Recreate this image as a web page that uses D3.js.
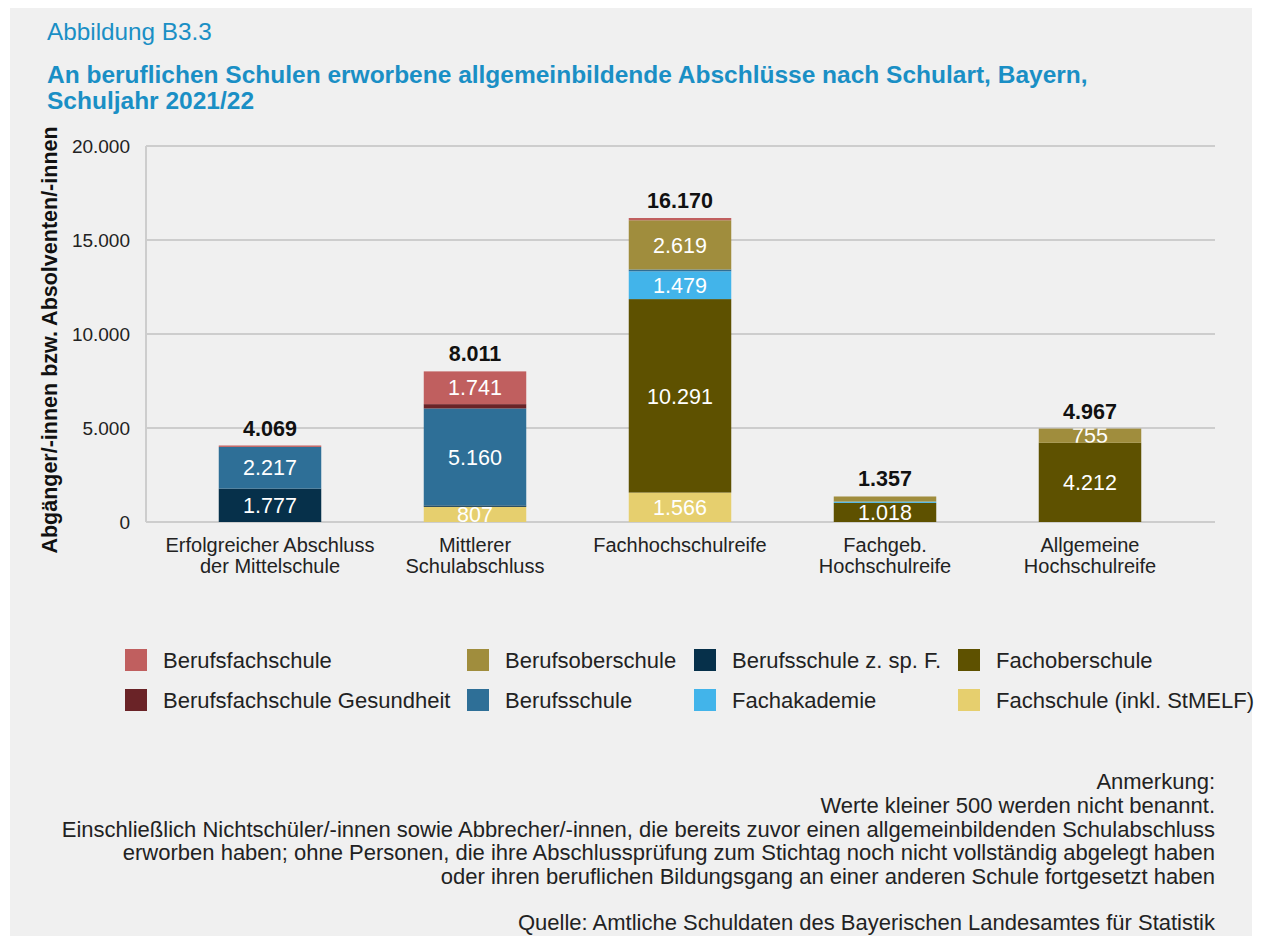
<!DOCTYPE html>
<html>
<head>
<meta charset="utf-8">
<script src="https://cdn.jsdelivr.net/npm/d3@7"></script>
<style>
  body { margin: 0; background: #fff; }
  text { font-family: "Liberation Sans", Arial, sans-serif; }
</style>
</head>
<body>
<div id="chart-area"></div>
<script>

// Data
var categories = [
    ["Erfolgreicher Abschluss", "der Mittelschule"],
    ["Mittlerer", "Schulabschluss"],
    ["Fachhochschulreife"],
    ["Fachgeb.", "Hochschulreife"],
    ["Allgemeine", "Hochschulreife"]
];

// stack order from bottom to top
var seriesNames = ["Fachschule (inkl. StMELF)", "Fachoberschule", "Fachakademie",
    "Berufsschule z. sp. F.", "Berufsschule", "Berufsoberschule",
    "Berufsfachschule Gesundheit", "Berufsfachschule"];

var fachschule        = [0, 807, 1566, 0, 0];
var fachoberschule    = [0, 0, 10291, 1018, 4212];
var fachakademie      = [0, 0, 1479, 69, 0];
var berufsschuleSpF   = [1777, 73, 0, 0, 0];
var berufsschule      = [2217, 5160, 95, 0, 0];
var berufsoberschule  = [0, 0, 2619, 270, 755];
var bfsGesundheit     = [0, 230, 0, 0, 0];
var berufsfachschule  = [75, 1741, 120, 0, 0];

var totals = [4069, 8011, 16170, 1357, 4967];

var yTicks = [0, 5000, 10000, 15000, 20000];

var colors = ["#e6cf6e", "#5e5100", "#42b4ea", "#06304a", "#2e6f97", "#a08d3d", "#6a2327", "#c05f5f"];

// legend order (two rows, four columns)
var legendOrder = ["Berufsfachschule", "Berufsoberschule", "Berufsschule z. sp. F.", "Fachoberschule",
    "Berufsfachschule Gesundheit", "Berufsschule", "Fachakademie", "Fachschule (inkl. StMELF)"];

var seriesValues = [fachschule, fachoberschule, fachakademie, berufsschuleSpF,
    berufsschule, berufsoberschule, bfsGesundheit, berufsfachschule];

var rows = categories.map(function(c, i) {
    var r = { idx: i };
    seriesNames.forEach(function(s, j) { r[s] = seriesValues[j][i]; });
    return r;
});

var W = 1261, H = 936;
var blue = "#1a8fc5";

var svg = d3.select("#chart-area").append("svg")
    .attr("width", W)
    .attr("height", H);

svg.append("rect")
    .attr("x", 10).attr("y", 8)
    .attr("width", 1242).attr("height", H - 8)
    .attr("fill", "#f0f0f0");

// Titles
svg.append("text")
    .attr("x", 47).attr("y", 40)
    .attr("font-size", "24.3px")
    .attr("fill", blue)
    .text("Abbildung B3.3");

svg.append("text")
    .attr("x", 47).attr("y", 83)
    .attr("font-size", "24.5px")
    .attr("font-weight", "bold")
    .attr("fill", blue)
    .text("An beruflichen Schulen erworbene allgemeinbildende Abschlüsse nach Schulart, Bayern,");

svg.append("text")
    .attr("x", 47).attr("y", 109)
    .attr("font-size", "24.5px")
    .attr("font-weight", "bold")
    .attr("fill", blue)
    .text("Schuljahr 2021/22");

var plot = { left: 146, right: 1215, top: 146, bottom: 522 };

var x = d3.scaleBand()
    .domain(d3.range(categories.length))
    .range([167.5, 1192.5])
    .paddingInner(0.5)
    .paddingOuter(0.25);

var y = d3.scaleLinear()
    .domain([0, 20000])
    .range([plot.bottom, plot.top]);

var fmt = function(v) { return d3.format(",")(v).replace(/,/g, "."); };

// Gridlines
svg.append("g")
    .selectAll("line")
    .data(yTicks)
    .enter().append("line")
    .attr("x1", plot.left).attr("x2", plot.right)
    .attr("y1", function(d) { return y(d); })
    .attr("y2", function(d) { return y(d); })
    .attr("stroke", "#cdcdcd")
    .attr("stroke-width", 2);

svg.append("line")
    .attr("x1", plot.left).attr("x2", plot.left)
    .attr("y1", plot.top).attr("y2", plot.bottom)
    .attr("stroke", "#cdcdcd")
    .attr("stroke-width", 2);

// Y axis
var yAxis = svg.append("g")
    .attr("transform", "translate(" + (plot.left - 13) + ",0)")
    .call(d3.axisLeft(y).tickValues(yTicks).tickSize(0).tickFormat(fmt));
yAxis.select(".domain").remove();
yAxis.selectAll("text")
    .attr("font-size", "19px")
    .attr("font-family", "Liberation Sans, Arial, sans-serif")
    .attr("fill", "#222")
    .attr("dy", "0.35em");

svg.append("text")
    .attr("transform", "translate(57," + 340 + ") rotate(-90)")
    .attr("text-anchor", "middle")
    .attr("font-size", "21.5px")
    .attr("font-weight", "bold")
    .attr("fill", "#111")
    .text("Abgänger/-innen bzw. Absolventen/-innen");

// Bars
var stack = d3.stack().keys(seriesNames);
var stacked = stack(rows);

var defs = svg.append("defs");
var layers = svg.append("g").selectAll("g")
    .data(stacked)
    .enter().append("g")
    .attr("fill", function(d, i) { return colors[i]; });

layers.each(function(layer, li) {
    var g = d3.select(this);
    layer.forEach(function(d, ci) {
        var v = d[1] - d[0];
        if (v <= 0) return;
        var x0 = x(ci), bw = x.bandwidth();
        var y0 = y(d[1]), h = y(d[0]) - y(d[1]);
        g.append("rect")
            .attr("x", x0).attr("y", y0)
            .attr("width", bw).attr("height", h);
        if (v >= 500) {
            var id = "clip-" + li + "-" + ci;
            defs.append("clipPath").attr("id", id)
                .append("rect")
                .attr("x", x0).attr("y", y0)
                .attr("width", bw).attr("height", h);
            svg.append("text")
                .attr("clip-path", "url(#" + id + ")")
                .attr("x", x0 + bw / 2)
                .attr("y", y0 + h / 2)
                .attr("dy", "0.36em")
                .attr("text-anchor", "middle")
                .attr("font-size", "21.5px")
                .attr("fill", "#fff")
                .text(fmt(v));
        }
    });
});

// Totals
svg.append("g").selectAll("text")
    .data(totals)
    .enter().append("text")
    .attr("x", function(d, i) { return x(i) + x.bandwidth() / 2; })
    .attr("y", function(d) { return y(d) - 10; })
    .attr("text-anchor", "middle")
    .attr("font-size", "21.5px")
    .attr("font-weight", "bold")
    .attr("fill", "#111")
    .text(fmt);

// Category labels
var catG = svg.append("g").selectAll("text")
    .data(categories)
    .enter().append("text")
    .attr("x", function(d, i) { return x(i) + x.bandwidth() / 2; })
    .attr("y", 552)
    .attr("text-anchor", "middle")
    .attr("font-size", "20px")
    .attr("fill", "#222");
catG.selectAll("tspan")
    .data(function(d) { return d; })
    .enter().append("tspan")
    .attr("x", function() { return d3.select(this.parentNode).attr("x"); })
    .attr("dy", function(d, i) { return i === 0 ? 0 : 20.5; })
    .text(function(d) { return d; });

// Legend
var legendX = [125, 467, 694, 958];
var legendY = [660, 700];
var legend = svg.append("g").selectAll("g")
    .data(legendOrder)
    .enter().append("g")
    .attr("transform", function(d, i) {
        return "translate(" + legendX[i % 4] + "," + legendY[Math.floor(i / 4)] + ")";
    });
legend.append("rect")
    .attr("x", 0).attr("y", -11)
    .attr("width", 22).attr("height", 22)
    .attr("fill", function(d) { return colors[seriesNames.indexOf(d)]; });
legend.append("text")
    .attr("x", 38).attr("y", 0)
    .attr("dy", "0.35em")
    .attr("font-size", "22px")
    .attr("fill", "#222")
    .text(function(d) { return d; });

// Notes
var notes = [
    "Anmerkung:",
    "Werte kleiner 500 werden nicht benannt.",
    "Einschließlich Nichtschüler/-innen sowie Abbrecher/-innen, die bereits zuvor einen allgemeinbildenden Schulabschluss",
    "erworben haben; ohne Personen, die ihre Abschlussprüfung zum Stichtag noch nicht vollständig abgelegt haben",
    "oder ihren beruflichen Bildungsgang an einer anderen Schule fortgesetzt haben"
];
svg.append("g").selectAll("text")
    .data(notes)
    .enter().append("text")
    .attr("x", 1215)
    .attr("y", function(d, i) { return 789 + i * 23.8; })
    .attr("text-anchor", "end")
    .attr("font-size", "22px")
    .attr("fill", "#222")
    .text(function(d) { return d; });

svg.append("text")
    .attr("x", 1215).attr("y", 930)
    .attr("text-anchor", "end")
    .attr("font-size", "22px")
    .attr("fill", "#222")
    .text("Quelle: Amtliche Schuldaten des Bayerischen Landesamtes für Statistik");

</script>
</body>
</html>
